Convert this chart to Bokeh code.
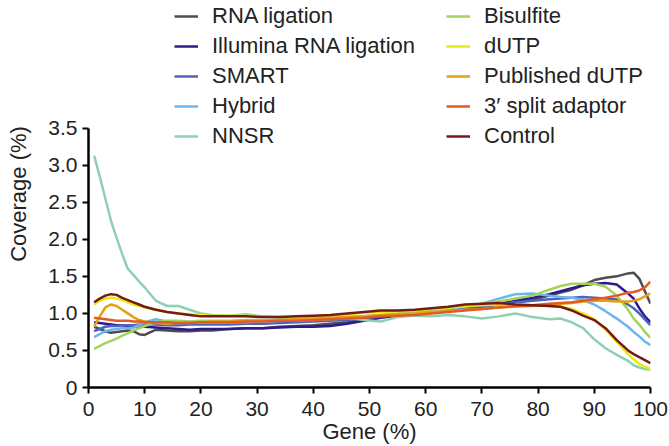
from bokeh.plotting import figure
from bokeh.models import Legend, LegendItem, FixedTicker, Range1d
from bokeh.embed import file_html
from bokeh.resources import INLINE

# Gene-body position (%) at which coverage was sampled
gene_pct = [1, 2, 3, 4, 5, 6, 7, 8, 9, 10,
            12, 14, 16, 18, 20, 22,
            25, 28, 31, 34, 37, 40, 43, 46, 49, 52, 55, 58, 61, 64, 67, 70, 73, 76, 79,
            82, 84, 86, 88, 90, 92, 94, 96,
            97, 98, 99, 100]

rna_ligation = [0.82, 0.79, 0.76, 0.74, 0.75, 0.76, 0.77, 0.76, 0.72, 0.71,
                0.78, 0.77, 0.76, 0.76, 0.77, 0.77,
                0.79, 0.80, 0.80, 0.82, 0.83, 0.84, 0.86, 0.88, 0.91, 0.95, 0.97, 0.99, 1.02, 1.04, 1.07, 1.09, 1.12, 1.15, 1.18,
                1.24, 1.28, 1.32, 1.38, 1.45, 1.48, 1.50, 1.54,
                1.55, 1.47, 1.30, 1.13]
illumina_rna_ligation = [0.88, 0.87, 0.86, 0.85, 0.84, 0.84, 0.83, 0.83, 0.82, 0.82,
                         0.81, 0.80, 0.79, 0.78, 0.79, 0.79,
                         0.79, 0.80, 0.80, 0.81, 0.82, 0.82, 0.83, 0.86, 0.90, 0.94, 0.97, 1.00, 1.03, 1.05, 1.07, 1.10, 1.13, 1.17, 1.21,
                         1.26, 1.30, 1.34, 1.38, 1.40, 1.41, 1.39, 1.27,
                         1.20, 1.07, 0.96, 0.88]
smart = [0.76, 0.79, 0.82, 0.83, 0.83, 0.84, 0.84, 0.84, 0.85, 0.85,
         0.85, 0.84, 0.84, 0.85, 0.85, 0.85,
         0.85, 0.86, 0.86, 0.87, 0.88, 0.89, 0.90, 0.91, 0.93, 0.96, 0.98, 1.00, 1.02, 1.04, 1.07, 1.09, 1.12, 1.15, 1.17,
         1.19, 1.20, 1.21, 1.22, 1.21, 1.20, 1.19, 1.12,
         1.07, 1.00, 0.92, 0.84]
hybrid = [0.68, 0.72, 0.76, 0.78, 0.79, 0.80, 0.80, 0.81, 0.84, 0.88,
          0.92, 0.89, 0.87, 0.87, 0.88, 0.88,
          0.88, 0.88, 0.89, 0.90, 0.90, 0.91, 0.92, 0.93, 0.95, 0.97, 0.99, 1.01, 1.03, 1.06, 1.09, 1.13, 1.20, 1.26, 1.27,
          1.24, 1.22, 1.21, 1.18, 1.12, 1.03, 0.93, 0.82,
          0.75, 0.69, 0.62, 0.57]
nnsr = [3.13, 2.85, 2.55, 2.25, 2.02, 1.80, 1.60, 1.52, 1.43, 1.35,
        1.17, 1.10, 1.10, 1.05, 1.00, 0.98,
        0.97, 0.99, 0.96, 0.94, 0.93, 0.92, 0.93, 0.94, 0.91, 0.89, 0.95, 0.97, 0.96, 0.98, 0.96, 0.93, 0.96, 1.00, 0.95,
        0.92, 0.93, 0.88, 0.80, 0.65, 0.53, 0.44, 0.36,
        0.30, 0.27, 0.25, 0.24]
bisulfite = [0.52, 0.56, 0.60, 0.63, 0.66, 0.70, 0.73, 0.77, 0.80, 0.83,
             0.88, 0.90, 0.90, 0.89, 0.90, 0.90,
             0.90, 0.91, 0.91, 0.91, 0.92, 0.93, 0.94, 0.95, 0.96, 0.98, 1.00, 1.02, 1.04, 1.07, 1.10, 1.13, 1.16, 1.20, 1.24,
             1.32, 1.37, 1.40, 1.40, 1.40, 1.36, 1.24, 1.05,
             0.93, 0.85, 0.75, 0.67]
dutp = [1.12, 1.17, 1.20, 1.21, 1.20, 1.18, 1.15, 1.12, 1.10, 1.08,
        1.05, 1.02, 1.00, 0.99, 0.98, 0.97,
        0.97, 0.97, 0.96, 0.95, 0.95, 0.96, 0.97, 0.99, 1.01, 1.02, 1.03, 1.04, 1.06, 1.08, 1.10, 1.11, 1.12, 1.12, 1.11,
        1.10, 1.09, 1.06, 1.00, 0.92, 0.78, 0.62, 0.45,
        0.38, 0.32, 0.28, 0.25]
published_dutp = [0.82, 0.96, 1.08, 1.12, 1.10, 1.05, 1.00, 0.95, 0.91, 0.89,
                  0.87, 0.86, 0.87, 0.88, 0.88, 0.89,
                  0.89, 0.90, 0.90, 0.91, 0.92, 0.93, 0.94, 0.95, 0.96, 0.98, 0.99, 1.00, 1.02, 1.03, 1.05, 1.06, 1.08, 1.09, 1.10,
                  1.12, 1.13, 1.14, 1.16, 1.17, 1.17, 1.16, 1.16,
                  1.17, 1.19, 1.23, 1.27]
split_adaptor = [0.94, 0.93, 0.92, 0.91, 0.90, 0.90, 0.90, 0.89, 0.89, 0.88,
                 0.88, 0.88, 0.87, 0.87, 0.88, 0.88,
                 0.88, 0.89, 0.89, 0.90, 0.90, 0.91, 0.92, 0.93, 0.94, 0.96, 0.97, 0.98, 1.00, 1.02, 1.04, 1.06, 1.08, 1.10, 1.11,
                 1.13, 1.14, 1.15, 1.17, 1.19, 1.21, 1.24, 1.28,
                 1.29, 1.31, 1.35, 1.43]
control = [1.15, 1.20, 1.24, 1.26, 1.25, 1.21, 1.18, 1.15, 1.12, 1.09,
           1.05, 1.02, 1.00, 0.98, 0.96, 0.96,
           0.96, 0.96, 0.95, 0.95, 0.96, 0.97, 0.98, 1.00, 1.02, 1.04, 1.04, 1.05, 1.07, 1.09, 1.12, 1.13, 1.14, 1.12, 1.11,
           1.10, 1.09, 1.04, 0.97, 0.91, 0.80, 0.64, 0.50,
           0.45, 0.41, 0.37, 0.33]

series_names = ["RNA ligation", "Illumina RNA ligation", "SMART", "Hybrid", "NNSR",
                "Bisulfite", "dUTP", "Published dUTP", "3\u2032 split adaptor", "Control"]
series_values = [rna_ligation, illumina_rna_ligation, smart, hybrid, nnsr,
                 bisulfite, dutp, published_dutp, split_adaptor, control]
series_colors = ["#4d4d4d", "#2c1a8e", "#4f62bd", "#6bb6f0", "#8fd0b5",
                 "#a3d45a", "#eaea10", "#e6a012", "#e25a26", "#741c14"]

x_ticks = [0, 10, 20, 30, 40, 50, 60, 70, 80, 90, 100]
y_ticks = [0, 0.5, 1.0, 1.5, 2.0, 2.5, 3.0, 3.5]
y_tick_labels = ["0", "0.5", "1.0", "1.5", "2.0", "2.5", "3.0", "3.5"]

FONT = "Liberation Sans"
W, H = 669, 446
BOTTOM, LEFT, RIGHT = 58, 88, 19
# The frame reaches the top of the canvas so the legend can sit above the
# axis; 3.5 lands 260 px above the x axis.
Y_TOP = (H - BOTTOM) * 3.5 / 260.0

p = figure(width=W, height=H, x_range=Range1d(0, 100), y_range=Range1d(0, Y_TOP),
           output_backend="svg", toolbar_location=None,
           min_border_left=LEFT, min_border_right=RIGHT,
           min_border_top=0, min_border_bottom=BOTTOM)
p.outline_line_color = None
p.xgrid.visible = False
p.ygrid.visible = False
p.background_fill_color = "white"
p.border_fill_color = "white"

renderers = []
for name, vals, col in zip(series_names, series_values, series_colors):
    r = p.line(gene_pct, vals, line_color=col, line_width=2.5)
    renderers.append(r)

for ax in (p.xaxis[0], p.yaxis[0]):
    ax.axis_line_width = 2.5
    ax.axis_line_color = "black"
    ax.major_tick_line_width = 2
    ax.major_tick_line_color = "black"
    ax.major_tick_out = 6
    ax.major_tick_in = 0
    ax.minor_tick_line_color = None
    ax.major_label_text_font = FONT
    ax.major_label_text_font_size = "21px"
    ax.major_label_text_color = "#222222"
    ax.axis_label_text_font = FONT
    ax.axis_label_text_font_size = "22px"
    ax.axis_label_text_font_style = "normal"
    ax.axis_label_text_color = "#222222"

p.xaxis.bounds = (0, 100)
p.yaxis.bounds = (0, 3.5)
p.xaxis.ticker = FixedTicker(ticks=x_ticks)
p.yaxis.ticker = FixedTicker(ticks=y_ticks)
p.yaxis.major_label_overrides = {t: s for t, s in zip(y_ticks, y_tick_labels)}
p.xaxis.axis_label = "Gene (%)"
p.yaxis.axis_label = "Coverage (%)"
p.xaxis.major_label_standoff = 8
p.yaxis.major_label_standoff = 5
p.xaxis.axis_label_standoff = 0
p.yaxis.axis_label_standoff = 14


def make_legend(idx, loc):
    items = [LegendItem(label=series_names[i], renderers=[renderers[i]]) for i in idx]
    lg = Legend(items=items, location=loc, orientation="vertical",
                label_text_font=FONT, label_text_font_size="22px",
                label_text_color="#222222",
                glyph_width=24, glyph_height=24, label_height=24,
                label_standoff=14, spacing=4, padding=0, margin=0,
                border_line_color=None, background_fill_alpha=0)
    return lg


p.add_layout(make_legend([0, 1, 2, 3, 4], (86, 238)), "center")
p.add_layout(make_legend([5, 6, 7, 8, 9], (358, 238)), "center")

open("out.html", "w").write(file_html(p, INLINE))
